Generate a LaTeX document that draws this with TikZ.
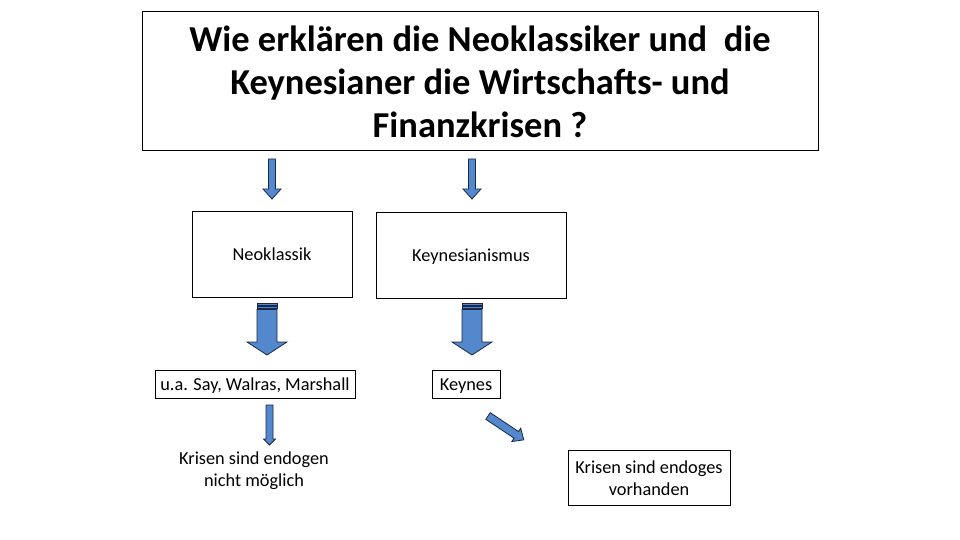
\documentclass[tikz,border=0pt]{standalone}
\usepackage{fontspec}
\setmainfont{Carlito}
\usepackage{tikz}
\usetikzlibrary{positioning}
\definecolor{arrowblue}{RGB}{84,136,204}
\definecolor{arrowline}{RGB}{25,40,70}
\tikzset{every picture/.style={x=1pt,y=-1pt},
  box/.style={rectangle, draw=black, line width=0.8pt, inner sep=0pt, align=center, font=\fontsize{18.3}{22}\selectfont},
  oneline/.style={text height=14pt, text depth=2pt},
  plain/.style={rectangle, inner sep=0pt, align=center, font=\fontsize{18.3}{22}\selectfont},
  blockarrow/.style={fill=arrowblue, draw=arrowline, line width=0.8pt, line join=miter}}

% x, top, tip, shaft half width, head half width, head length
\newcommand{\downblock}[6]{%
  \draw[blockarrow] ({#1-#4},#2) -- ({#1+#4},#2) -- ({#1+#4},{#3-#6}) -- ({#1+#5},{#3-#6})
    -- (#1,#3) -- ({#1-#5},{#3-#6}) -- ({#1-#4},{#3-#6}) -- cycle;}
% stripes above a block arrow: x, top, shaft half width
\newcommand{\stripes}[3]{%
  \draw[blockarrow] ({#1-#3},#2) rectangle ({#1+#3},{#2+2});
  \draw[blockarrow] ({#1-#3},{#2+3}) rectangle ({#1+#3},{#2+5});}

\begin{document}
\begin{tikzpicture}
  \useasboundingbox (0,0) rectangle (960,540);

  \node[box, line width=1pt, minimum width=676pt, minimum height=139pt,
        font=\fontsize{36.5}{43}\selectfont\bfseries] (title) at (480,81.5)
        {Wie erklären die Neoklassiker und\ \ die\\Keynesianer die Wirtschafts- und\\Finanzkrisen ?};

  \node[box, oneline, minimum width=160pt, minimum height=86pt] (neo) at (272,254) {Neoklassik};
  \node[box, oneline, minimum width=190pt, minimum height=86pt] (keyn) at (471,255) {Keynesianismus};
  \node[box, oneline, minimum width=200pt, minimum height=28pt] (say) at (255,384) {u.a. Say, Walras, Marshall};
  \node[box, oneline, minimum width=68pt, minimum height=28pt] (keynes) at (466,384) {Keynes};
  \node[plain] (endogen) at (254,471) {Krisen sind endogen\\nicht möglich};
  \node[box, minimum width=162pt, minimum height=55pt] (endoges) at (649,478) {Krisen sind endoges\\vorhanden};

  % arrows
  \foreach \x in {272, 472}
    \downblock{\x}{159}{199}{3.5}{9}{10};
  \foreach \x in {267, 472} {
    \stripes{\x}{303.5}{10}
    \downblock{\x}{309.5}{355}{10}{20}{13}
  }
  \downblock{269.5}{405}{445}{3.5}{6}{6}
  \begin{scope}[shift={(488,416)}, rotate=56.3]
    \downblock{0}{0}{43}{4}{8}{9}
  \end{scope}
\end{tikzpicture}
\end{document}
